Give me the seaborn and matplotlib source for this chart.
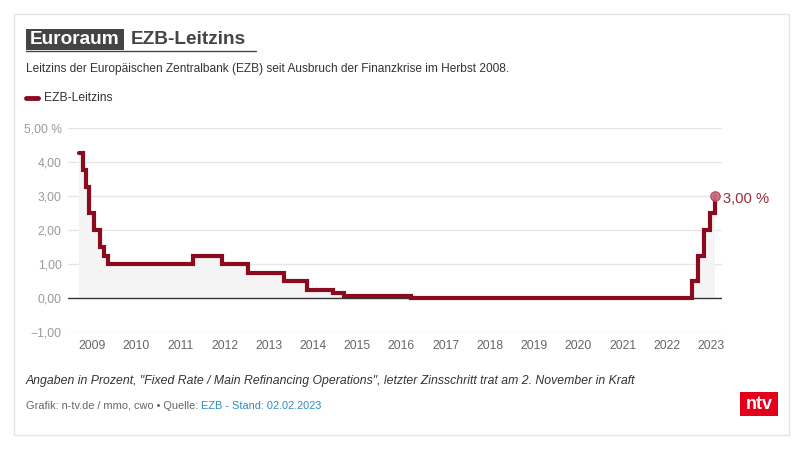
import matplotlib
matplotlib.use("Agg")
import matplotlib.pyplot as plt
import matplotlib.dates as mdates
from matplotlib.patches import Rectangle
import pandas as pd
import seaborn as sns

# ---- data -------------------------------------------------------------
dates = ["2008-09-12", "2008-10-15", "2008-11-12", "2008-12-10", "2009-01-21",
         "2009-03-11", "2009-04-08", "2009-05-13", "2011-04-13", "2011-12-14",
         "2012-07-11", "2013-05-08", "2013-11-13", "2014-06-11", "2014-09-10",
         "2016-03-16", "2022-07-27", "2022-09-14", "2022-11-02", "2022-12-21",
         "2023-02-02"]
rates = [4.25, 3.75, 3.25, 2.50, 2.00,
         1.50, 1.25, 1.00, 1.25, 1.00,
         0.75, 0.50, 0.25, 0.15, 0.05,
         0.00, 0.50, 1.25, 2.00, 2.50,
         3.00]
y_ticks = [-1, 0, 1, 2, 3, 4, 5]
y_labels = ["\u22121,00", "0,00", "1,00", "2,00", "3,00", "4,00", "5,00 %"]
years = list(range(2009, 2024))
series_name = "EZB-Leitzins"
end_label = "3,00 %"

df = pd.DataFrame({"Datum": pd.to_datetime(dates), "Zins": rates})

# ---- style ------------------------------------------------------------
sns.set_theme(style="white")
plt.rcParams["font.family"] = ["Liberation Sans", "DejaVu Sans"]

W, H = 806, 455
fig = plt.figure(figsize=(W / 100, H / 100), dpi=100)
fig.patch.set_facecolor("white")

def fx(x):
    return x / W

def fy(y):
    return 1 - y / H

RED = "#8a0a1e"

# card border
fig.patches.append(Rectangle((fx(14), fy(435)), fx(775), (435 - 14) / H,
                             transform=fig.transFigure, facecolor="none",
                             edgecolor="#e3e3e3", linewidth=1))

ax = fig.add_axes([fx(68), fy(332), fx(722 - 68), (332 - 128) / H])
ax.set_facecolor("none")

ax.fill_between(df["Datum"], df["Zins"], 0, step="post", color="#f4f4f4",
                linewidth=0, zorder=1)
sns.lineplot(data=df, x="Datum", y="Zins", ax=ax, drawstyle="steps-post",
             color=RED, linewidth=3.0, zorder=4, legend=False,
             solid_joinstyle="miter")

last = df.iloc[-1]
ax.scatter([last["Datum"]], [last["Zins"]], s=45, color="#c8707d",
           edgecolor="#b04a5a", linewidth=1, zorder=5, alpha=0.9)
ax.annotate(end_label, (last["Datum"], last["Zins"]), xytext=(6, -2.5),
            textcoords="offset points", color="#9a2a3a", fontsize=10.6,
            va="center", ha="left", annotation_clip=False)

ax.set_ylim(-1, 5)
ax.set_xlim(pd.Timestamp("2008-06-17"), pd.Timestamp("2023-04-01"))
ax.set_yticks(y_ticks)
ax.set_yticklabels(y_labels)
ax.set_xticks([pd.Timestamp(f"{y}-01-01") for y in years])
ax.xaxis.set_major_formatter(mdates.DateFormatter("%Y"))
ax.tick_params(axis="y", length=0, pad=4.5, labelsize=8.7, labelcolor="#9a9a9a")
ax.tick_params(axis="x", length=0, pad=6, labelsize=8.7, labelcolor="#666666")
ax.set_xlabel("")
ax.set_ylabel("")
for s in ax.spines.values():
    s.set_visible(False)
for v in y_ticks:
    if v == 0:
        ax.axhline(v, color="#333333", linewidth=1, zorder=3)
    else:
        ax.axhline(v, color="#e6e6e6", linewidth=1, zorder=0)

# ---- titles -----------------------------------------------------------
fig.patches.append(Rectangle((fx(26), fy(50)), fx(98), 21 / H,
                             transform=fig.transFigure, facecolor="#444444",
                             edgecolor="none"))
fig.text(fx(75), fy(40), "Euroraum", color="white", fontsize=13.7,
         fontweight="bold", ha="center", va="center")
fig.text(fx(131), fy(40), "EZB-Leitzins", color="#444444", fontsize=13.7,
         fontweight="bold", ha="left", va="center")
fig.lines.append(plt.Line2D([fx(26), fx(256)], [fy(50.5), fy(50.5)],
                            transform=fig.transFigure, color="#444444",
                            linewidth=1))
fig.text(fx(26), fy(69), "Leitzins der Europäischen Zentralbank (EZB) seit "
         "Ausbruch der Finanzkrise im Herbst 2008.", color="#333333",
         fontsize=8.6, ha="left", va="center")

# legend
fig.lines.append(plt.Line2D([fx(26), fx(38)], [fy(98), fy(98)],
                            transform=fig.transFigure, color=RED,
                            linewidth=3.5, solid_capstyle="round"))
fig.text(fx(44), fy(98), series_name, color="#333333", fontsize=8.7,
         ha="left", va="center")

# footer
fig.text(fx(26), fy(381), "Angaben in Prozent, \"Fixed Rate / Main Refinancing "
         "Operations\", letzter Zinsschritt trat am 2. November in Kraft",
         color="#333333", fontsize=8.8, style="italic", ha="left", va="center")
t1 = fig.text(fx(26), fy(406), "Grafik: n-tv.de / mmo, cwo \u2022 Quelle: ",
              color="#666666", fontsize=7.9, ha="left", va="center")
fig.canvas.draw()
bb = t1.get_window_extent(renderer=fig.canvas.get_renderer())
fig.text(bb.x1 / W, fy(406), "EZB - Stand: 02.02.2023", color="#2b8cc4",
         fontsize=7.9, ha="left", va="center")

# logo
fig.patches.append(Rectangle((fx(740), fy(416)), fx(38), 24 / H,
                             transform=fig.transFigure, facecolor="#e2001a",
                             edgecolor="none"))
fig.text(fx(759), fy(404.5), "ntv", color="white", fontsize=13,
         fontweight="bold", ha="center", va="center")

fig.savefig("out.png", dpi=100)
